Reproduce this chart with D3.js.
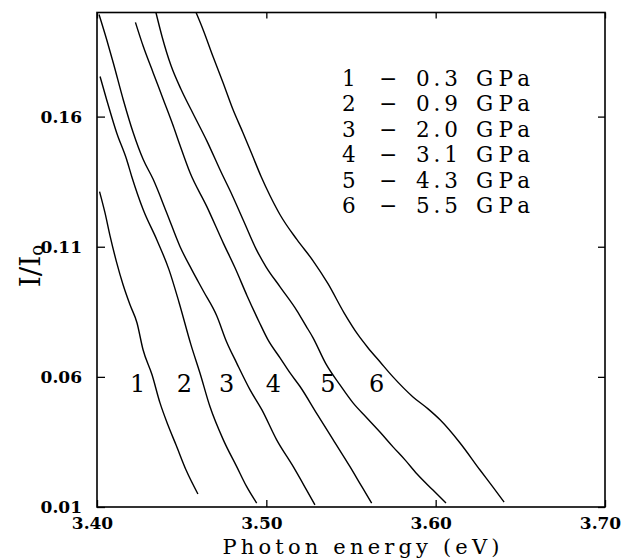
<!DOCTYPE html>
<html>
<head>
<meta charset="utf-8">
<script src="https://cdn.jsdelivr.net/npm/d3@7"></script>
<style>
  body { margin: 0; background: #fff; }
</style>
</head>
<body>
<div id="chart"></div>
<script>
// transmission I/I0 against photon energy (eV), one curve per pressure
var curve1 = [[3.4015,0.1312],[3.4047,0.1231],[3.4077,0.1142],[3.4115,0.1042],[3.4154,0.0954],
  [3.4195,0.0877],[3.4236,0.0808],[3.4272,0.0704],[3.4325,0.0608],[3.4372,0.0500],
  [3.4419,0.0415],[3.4467,0.0338],[3.4526,0.0242],[3.4596,0.0150]];
var curve2 = [[3.4018,0.1754],[3.4057,0.1665],[3.4116,0.1538],[3.4175,0.1435],[3.4205,0.1370],
  [3.4273,0.1242],[3.4353,0.1127],[3.4425,0.1012],[3.4485,0.0885],[3.4555,0.0723],
  [3.4608,0.0615],[3.4667,0.0486],[3.4746,0.0358],[3.4825,0.0255],[3.4884,0.0178],[3.4943,0.0115]];
var curve3 = [[3.4012,0.1992],[3.4057,0.1896],[3.4096,0.1807],[3.4155,0.1665],[3.4214,0.1538],
  [3.4273,0.1435],[3.4331,0.1360],[3.4412,0.1230],[3.4490,0.1101],[3.4561,0.1010],
  [3.4628,0.0930],[3.4707,0.0835],[3.4765,0.0735],[3.4825,0.0653],[3.4904,0.0550],
  [3.4974,0.0473],[3.5061,0.0358],[3.5159,0.0255],[3.5238,0.0165],[3.5287,0.0108]];
var curve4 = [[3.4227,0.1962],[3.4273,0.1870],[3.4332,0.1768],[3.4392,0.1665],[3.4451,0.1563],
  [3.4490,0.1490],[3.4549,0.1385],[3.4648,0.1255],[3.4746,0.1114],[3.4815,0.1019],
  [3.4886,0.0912],[3.4957,0.0812],[3.5010,0.0742],[3.5081,0.0673],[3.5140,0.0615],
  [3.5199,0.0563],[3.5297,0.0460],[3.5395,0.0358],[3.5494,0.0255],[3.5565,0.0177],[3.5622,0.0115]];
var curve5 = [[3.4348,0.2000],[3.4384,0.1908],[3.4437,0.1796],[3.4496,0.1705],[3.4567,0.1612],
  [3.4650,0.1505],[3.4732,0.1388],[3.4797,0.1300],[3.4868,0.1196],[3.4939,0.1092],
  [3.4998,0.1023],[3.5081,0.0946],[3.5181,0.0854],[3.5234,0.0796],[3.5276,0.0750],
  [3.5352,0.0650],[3.5435,0.0569],[3.5512,0.0500],[3.5594,0.0442],[3.5671,0.0388],
  [3.5748,0.0331],[3.5819,0.0281],[3.5890,0.0227],[3.5984,0.0165],[3.6061,0.0115]];
var curve6 = [[3.4585,0.2000],[3.4626,0.1935],[3.4685,0.1831],[3.4744,0.1731],[3.4803,0.1627],
  [3.4862,0.1538],[3.4915,0.1455],[3.4969,0.1370],[3.5022,0.1296],[3.5081,0.1223],
  [3.5181,0.1127],[3.5276,0.1046],[3.5364,0.0958],[3.5459,0.0846],[3.5541,0.0762],
  [3.5600,0.0712],[3.5671,0.0658],[3.5748,0.0600],[3.5866,0.0523],[3.5955,0.0477],
  [3.6026,0.0435],[3.6144,0.0346],[3.6262,0.0242],[3.6333,0.0181],[3.6404,0.0119]];

var curveIds = ["1", "2", "3", "4", "5", "6"];
var pressures = ["0.3", "0.9", "2.0", "3.1", "4.3", "5.5"];
var labelEnergy = [3.424, 3.4516, 3.4766, 3.5041, 3.5363, 3.5652];
var labelLevel = 0.0575;
var xTicks = [3.40, 3.50, 3.60, 3.70];
var yTicks = [0.01, 0.06, 0.11, 0.16];

var curves = [curve1, curve2, curve3, curve4, curve5, curve6];

var svg = d3.select("#chart")
    .append("svg")
    .attr("width", 629)
    .attr("height", 558);

var x = d3.scaleLinear().domain([3.40, 3.70]).range([97, 605]),
    y = d3.scaleLinear().domain([0.01, 0.20]).range([507, 12.5]);

var serif = "'DejaVu Serif', serif";

// inward ticks on all four sides
var bottom = svg.append("g")
    .attr("transform", "translate(0," + y(0.01) + ")")
    .call(d3.axisBottom(x).tickValues(xTicks).tickSize(-7).tickPadding(10).tickFormat(d3.format(".2f")));
bottom.selectAll("text").attr("dx", -5);

svg.append("g")
    .attr("transform", "translate(0," + y(0.20) + ")")
    .call(d3.axisTop(x).tickValues(xTicks).tickSize(-6).tickFormat(""));

svg.append("g")
    .attr("transform", "translate(" + x(3.40) + ",0)")
    .call(d3.axisLeft(y).tickValues(yTicks).tickSize(-8).tickPadding(15).tickFormat(d3.format(".2f")));

svg.append("g")
    .attr("transform", "translate(" + x(3.70) + ",0)")
    .call(d3.axisRight(y).tickValues(yTicks).tickSize(-7).tickFormat(""));

svg.selectAll(".domain").remove();
svg.selectAll(".tick line").attr("stroke", "#000").attr("stroke-width", 1.3);
svg.selectAll(".tick text")
    .attr("fill", "#000")
    .attr("font-family", serif)
    .attr("font-weight", "bold")
    .attr("font-size", 17);

// frame
svg.append("rect")
    .attr("x", x(3.40))
    .attr("y", y(0.20))
    .attr("width", x(3.70) - x(3.40))
    .attr("height", y(0.01) - y(0.20))
    .attr("fill", "none")
    .attr("stroke", "#000")
    .attr("stroke-width", 1.6);

var line = d3.line()
    .curve(d3.curveMonotoneX)
    .x(function(d) { return x(d[0]); })
    .y(function(d) { return y(d[1]); });

svg.selectAll(".curve")
    .data(curves)
  .enter().append("path")
    .attr("class", "curve")
    .attr("d", line)
    .attr("fill", "none")
    .attr("stroke", "#000")
    .attr("stroke-width", 1.4);

svg.selectAll(".clabel")
    .data(curveIds)
  .enter().append("text")
    .attr("class", "clabel")
    .attr("x", function(d, i) { return x(labelEnergy[i]); })
    .attr("y", y(labelLevel))
    .attr("dy", "0.36em")
    .attr("text-anchor", "middle")
    .attr("font-family", serif)
    .attr("font-size", 24)
    .text(function(d) { return d; });

// legend
var legend = svg.append("g")
    .attr("font-family", serif)
    .attr("font-size", 21.5)
    .attr("fill", "#000");

var rows = legend.selectAll("g")
    .data(curveIds)
  .enter().append("g")
    .attr("transform", function(d, i) { return "translate(0," + (86 + i * 25.4) + ")"; });

rows.append("text").attr("x", 342).attr("textLength", 14).text(function(d) { return d; });
rows.append("text").attr("x", 388).attr("text-anchor", "middle").text("\u2212");
rows.append("text").attr("x", 416).attr("textLength", 42).text(function(d, i) { return pressures[i]; });
rows.append("text").attr("x", 476).attr("textLength", 54).text("GPa");

// axis titles
svg.append("text")
    .attr("x", 361)
    .attr("y", 554)
    .attr("text-anchor", "middle")
    .attr("font-family", serif)
    .attr("font-size", 21)
    .attr("textLength", 277)
    .attr("lengthAdjust", "spacing")
    .text("Photon energy (eV)");

var ytitle = svg.append("text")
    .attr("transform", "translate(40,266) rotate(-90)")
    .attr("text-anchor", "middle")
    .attr("font-family", serif)
    .attr("font-size", 28);
ytitle.append("tspan").text("I/I");
ytitle.append("tspan").attr("font-size", 18).attr("dy", 3).text("o");
</script>
</body>
</html>
